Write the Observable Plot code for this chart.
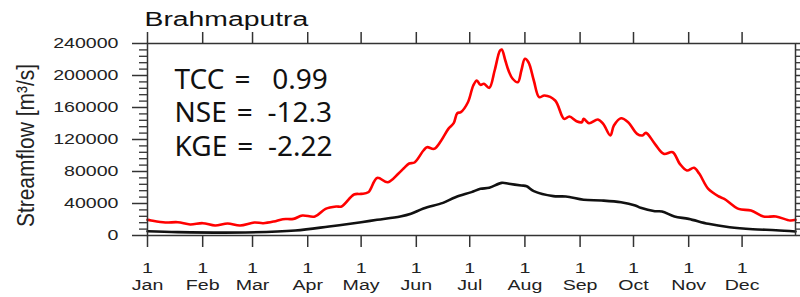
<!DOCTYPE html>
<html><head><meta charset="utf-8">
<script src="https://cdn.jsdelivr.net/npm/d3@7"></script>
<script src="https://cdn.jsdelivr.net/npm/@observablehq/plot@0.6"></script>
<style>
html,body{margin:0;padding:0;background:#fff;overflow:hidden;}
</style></head><body><div id="chart"></div>
<script>
const title = "Brahmaputra";
const yLabel = "Streamflow [m\u00b3/s]";
const statsLines = ["TCC\u00a0\u200a=\u00a0\u00a0\u00a00.99", "NSE\u00a0\u200a=\u00a0\u00a0-12.3", "KGE\u00a0\u200a=\u00a0\u00a0-2.22"];
const monthNames = ["Jan","Feb","Mar","Apr","May","Jun","Jul","Aug","Sep","Oct","Nov","Dec"];
const yMajor = [0, 40000, 80000, 120000, 160000, 200000, 240000];
const yMinor = [8000,16000,24000,32000,48000,56000,64000,72000,88000,96000,104000,112000,
  128000,136000,144000,152000,168000,176000,184000,192000,208000,216000,224000,232000];

// red series (day of year offset from Jan 1, streamflow)
const redDay = [0,2,10,17,24,31,38,45,52,60,65,71,76,82,87,94,100,106,109,116,120,124,129,135,141,144,147,150,155,157,161,165,169,172,174,176,180,183,185,187,189,192,195,198,199,201,203,205,208,210,212,214,217,220,223,229,234,237,241,244,245,248,253,256,260,262,266,270,275,278,280,285,290,295,299,303,307,310,315,321,324,332,339,346,353,361,364];
const redFlow = [19600,18750,16250,16600,13750,15400,12500,15000,12500,16250,15400,17500,20400,20800,25000,23750,33300,36250,36250,51250,52000,54000,72000,66600,77500,84000,90000,91250,106250,110400,108300,118750,133300,140400,152900,154200,166600,187500,193750,188300,189600,184600,206250,231250,232500,218750,205000,196250,191600,206250,220800,216600,193750,172900,175000,168750,145800,148750,142900,141600,145800,140400,145000,139600,125000,137500,146600,141600,127100,125000,128300,114600,102100,104100,89600,81250,84600,77100,58300,48750,45800,33300,31250,23750,23750,18750,19600];

// black series
const blackDay = [0,17,55,83,102,120,129,142,148,155,166,173,182,187,192,199,203,210,213,217,228,235,245,255,266,274,277,285,289,296,304,315,327,340,353,364];
const blackFlow = [5400,4200,3800,6250,11250,16600,19600,23750,27100,33750,40800,47900,54200,58300,59600,65800,64600,62500,61600,55400,49200,48750,44600,43750,41600,37500,34600,30400,30000,23750,20800,14600,10400,7900,6600,5000];

const toDate = d => new Date(Date.UTC(2001, 0, 1 + d));
const red = redDay.map((d, i) => ({date: toDate(d), flow: redFlow[i]}));
const black = blackDay.map((d, i) => ({date: toDate(d), flow: blackFlow[i]}));
const monthStarts = monthNames.map((m, i) => new Date(Date.UTC(2001, i, 1)));

const axisColor = "#333";
const svg = Plot.plot({
  width: 800, height: 297,
  marginLeft: 147, marginRight: 5, marginTop: 43, marginBottom: 62,
  style: {background: "#fff", fontFamily: "'Liberation Sans', Arial, sans-serif", overflow: "hidden"},
  x: {type: "utc", domain: [toDate(0), toDate(364)]},
  y: {domain: [0, 240000]},
  marks: [
    Plot.line(black, {x: "date", y: "flow", stroke: "#111", strokeWidth: 2.6, curve: "catmull-rom"}),
    Plot.line(red, {x: "date", y: "flow", stroke: "#ff0000", strokeWidth: 2.6, curve: "catmull-rom"}),
    Plot.frame({stroke: axisColor, strokeWidth: 1.5}),
    Plot.axisY({ticks: yMinor, tickSize: 8, tickFormat: () => "", stroke: axisColor, strokeWidth: 1.3, label: null}),
    Plot.axisY({ticks: yMajor, tickSize: 15, tickPadding: 14, tickFormat: d => String(d), fontSize: 14, fill: "#222", stroke: axisColor, strokeWidth: 1.5, label: null}),
    Plot.axisY({anchor: "right", ticks: yMinor, tickSize: 8, tickFormat: () => "", stroke: axisColor, strokeWidth: 1.3, label: null}),
    Plot.axisY({anchor: "right", ticks: yMajor, tickSize: 15, tickFormat: () => "", stroke: axisColor, strokeWidth: 1.5, label: null}),
    Plot.axisX({ticks: monthStarts, tickSize: 12, tickPadding: 13, tickFormat: d => "1\n" + monthNames[d.getUTCMonth()], fontSize: 14, lineHeight: 1.25, fill: "#222", stroke: axisColor, strokeWidth: 1.5, label: null}),
    Plot.axisX({anchor: "top", ticks: monthStarts, tickSize: 12, tickFormat: () => "", stroke: axisColor, strokeWidth: 1.5, label: null}),
    Plot.text([title], {text: d => d, frameAnchor: "top-left", textAnchor: "start", lineAnchor: "bottom", dx: -3, dy: -18, fontSize: 21, fill: "#111"}),
    Plot.text([statsLines.join("\n")], {text: d => d, frameAnchor: "top-left", textAnchor: "start", lineAnchor: "bottom", dx: 27, dy: 112, fontSize: 28, lineHeight: 1.18, fontFamily: "'Noto Sans', sans-serif", fill: "#111"}),
    Plot.text([yLabel], {text: d => d, frameAnchor: "left", rotate: -90, textAnchor: "middle", lineAnchor: "bottom", dx: -114, dy: 6, fontSize: 21, fill: "#222"})
  ]
});

function stretchEls(els, sx, sy) {
  els.forEach(t => {
    const tr = t.getAttribute("transform");
    if (tr) t.setAttribute("transform", tr + ` scale(${sx},${sy})`);
    else {
      const x = +t.getAttribute("x") || 0, y = +t.getAttribute("y") || 0;
      t.removeAttribute("x"); t.removeAttribute("y");
      t.setAttribute("transform", `translate(${x},${y}) scale(${sx},${sy})`);
    }
  });
}
const tickTexts = [...svg.querySelectorAll('g[aria-label$="tick label"] text')];
stretchEls(tickTexts, 1.4, 1);
const textGroups = [...svg.querySelectorAll('g[aria-label="text"]')];
if (textGroups[0]) stretchEls([...textGroups[0].querySelectorAll("text")], 1.35, 1);
if (textGroups[2]) stretchEls([...textGroups[2].querySelectorAll("text")], 1, 1.15);

document.getElementById("chart").appendChild(svg);
</script></body></html>
